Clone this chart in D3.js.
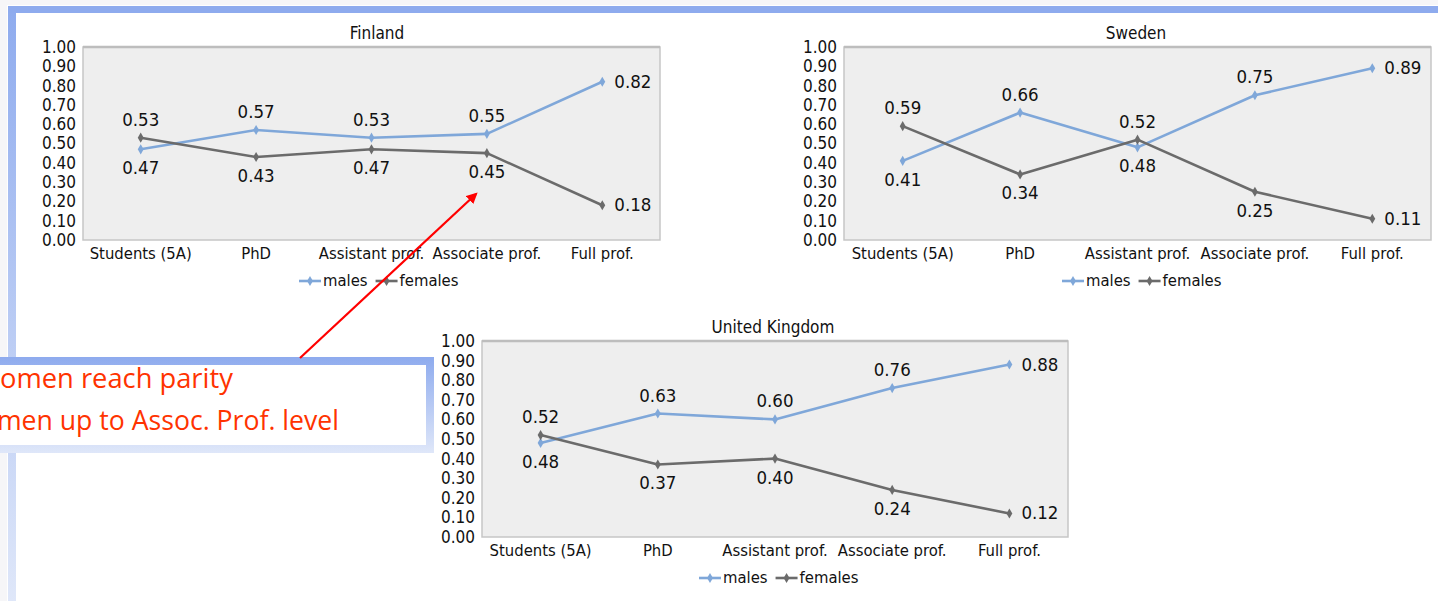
<!DOCTYPE html>
<html>
<head>
<meta charset="utf-8">
<script src="https://cdn.jsdelivr.net/npm/d3@7"></script>
<style>
  html, body { margin: 0; padding: 0; background: #ffffff; }
  svg { display: block; }
</style>
</head>
<body>
<svg id="chart" width="1438" height="601"></svg>
<script>
// Academic career stages
const categories = ["Students (5A)", "PhD", "Assistant prof.", "Associate prof.", "Full prof."];
const yTicks = [0, 0.1, 0.2, 0.3, 0.4, 0.5, 0.6, 0.7, 0.8, 0.9, 1.0];
const seriesNames = ["males", "females"];

// Share of males / females at each stage
const finlandMales   = [0.47, 0.57, 0.53, 0.55, 0.82];
const finlandFemales = [0.53, 0.43, 0.47, 0.45, 0.18];
const swedenMales    = [0.41, 0.66, 0.48, 0.75, 0.89];
const swedenFemales  = [0.59, 0.34, 0.52, 0.25, 0.11];
const ukMales        = [0.48, 0.63, 0.60, 0.76, 0.88];
const ukFemales      = [0.52, 0.37, 0.40, 0.24, 0.12];

const calloutLines = ["Women reach parity", "with men up to Assoc. Prof. level"];

const colors = { males: "#7fa7d9", females: "#6b6b6b" };
const chartFont = "'DejaVu Sans Condensed', 'Liberation Sans Narrow', 'Liberation Sans', sans-serif";

const panels = [
  { title: "Finland", males: finlandMales, females: finlandFemales,
    left: 83, right: 660, top: 47, bottom: 240, titleX: 377, legendX: 299 },
  { title: "Sweden", males: swedenMales, females: swedenFemales,
    left: 844, right: 1431, top: 47, bottom: 240, titleX: 1136, legendX: 1062 },
  { title: "United Kingdom", males: ukMales, females: ukFemales,
    left: 482, right: 1068, top: 341, bottom: 537, titleX: 773, legendX: 699 }
];

const svg = d3.select("#chart");

// Slide frame
const defs = svg.append("defs");
const sideGrad = defs.append("linearGradient").attr("id", "sideGrad")
  .attr("x1", 0).attr("y1", 0).attr("x2", 0).attr("y2", 1);
sideGrad.append("stop").attr("offset", "0%").attr("stop-color", "#8eabee");
sideGrad.append("stop").attr("offset", "100%").attr("stop-color", "#dfe7f9");
const boxGrad = defs.append("linearGradient").attr("id", "boxGrad")
  .attr("x1", 0).attr("y1", 0).attr("x2", 0).attr("y2", 1);
boxGrad.append("stop").attr("offset", "0%").attr("stop-color", "#8eabee");
boxGrad.append("stop").attr("offset", "100%").attr("stop-color", "#dfe7f9");

svg.append("rect").attr("x", 0).attr("y", 0).attr("width", 1438).attr("height", 5).attr("fill", "#f6f6f8");
svg.append("rect").attr("x", 0).attr("y", 0).attr("width", 7).attr("height", 601).attr("fill", "#f6f6f8");
svg.append("rect").attr("x", 8).attr("y", 6).attr("width", 8).attr("height", 595).attr("fill", "url(#sideGrad)");
svg.append("rect").attr("x", 8).attr("y", 6).attr("width", 1430).attr("height", 7).attr("fill", "#8eabee");

// Line marker: small diamond
const diamond = d3.symbol().type(d3.symbolDiamond).size(30);

function drawPanel(p) {
  const g = svg.append("g");
  const x = d3.scaleBand().domain(categories).range([p.left, p.right]).paddingInner(0).paddingOuter(0);
  const y = d3.scaleLinear().domain([0, 1]).range([p.bottom, p.top]);
  const cx = c => x(c) + x.bandwidth() / 2;

  g.append("rect")
    .attr("x", p.left).attr("y", p.top)
    .attr("width", p.right - p.left).attr("height", p.bottom - p.top)
    .attr("fill", "#eeeeee").attr("stroke", "#c6c6c6").attr("stroke-width", 1.5);
  g.append("line")
    .attr("x1", p.left).attr("x2", p.right).attr("y1", p.top).attr("y2", p.top)
    .attr("stroke", "#bdbdbd").attr("stroke-width", 2.5);

  g.append("text")
    .attr("x", p.titleX).attr("y", p.top - 8)
    .attr("text-anchor", "middle")
    .style("font-family", chartFont).style("font-size", "17px").attr("fill", "#111")
    .text(p.title);

  // Y axis labels
  const yAxis = d3.axisLeft(y).tickValues(yTicks).tickFormat(d3.format(".2f")).tickSize(0).tickPadding(7);
  const ya = g.append("g").attr("transform", `translate(${p.left},0)`).call(yAxis);
  ya.select(".domain").remove();
  ya.selectAll("text").style("font-family", chartFont).style("font-size", "17px").attr("fill", "#111");

  // X axis labels
  const xAxis = d3.axisBottom(x).tickSize(0).tickPadding(7);
  const xa = g.append("g").attr("transform", `translate(0,${p.bottom})`).call(xAxis);
  xa.select(".domain").remove();
  xa.selectAll("text").style("font-family", chartFont).style("font-size", "16.5px").attr("fill", "#111");

  const line = d3.line().x((d, i) => cx(categories[i])).y(d => y(d));

  seriesNames.forEach(name => {
    const vals = p[name];
    const other = p[name === "males" ? "females" : "males"];
    g.append("path").datum(vals)
      .attr("d", line).attr("fill", "none")
      .attr("stroke", colors[name]).attr("stroke-width", 2.6)
      .attr("stroke-linejoin", "round");
    g.selectAll(null).data(vals).enter().append("path")
      .attr("d", diamond)
      .attr("transform", (d, i) => `translate(${cx(categories[i])},${y(d)})`)
      .attr("fill", colors[name]);
    // Value labels: above for the larger share, below for the smaller, right of the last point
    g.selectAll(null).data(vals).enter().append("text")
      .attr("x", (d, i) => i === vals.length - 1 ? cx(categories[i]) + 12 : cx(categories[i]))
      .attr("y", (d, i) => {
        if (i === vals.length - 1) return y(d) + 6;
        return d >= other[i] ? y(d) - 12 : y(d) + 25;
      })
      .attr("text-anchor", (d, i) => i === vals.length - 1 ? "start" : "middle")
      .style("font-family", chartFont).style("font-size", "18.5px").attr("fill", "#111")
      .text(d => d.toFixed(2));
  });

  // Legend
  const lg = g.append("g").attr("transform", `translate(${p.legendX},${p.bottom + 41})`);
  let off = 0;
  seriesNames.forEach(name => {
    lg.append("line").attr("x1", off).attr("x2", off + 22).attr("y1", 0).attr("y2", 0)
      .attr("stroke", colors[name]).attr("stroke-width", 2.6);
    lg.append("path").attr("d", diamond).attr("transform", `translate(${off + 11},0)`).attr("fill", colors[name]);
    const t = lg.append("text").attr("x", off + 24).attr("y", 5)
      .style("font-family", chartFont).style("font-size", "16.5px").attr("fill", "#111")
      .text(name);
    off += 24 + t.node().getComputedTextLength() + 8;
  });
}

panels.forEach(drawPanel);

// Callout box
svg.append("rect").attr("x", -20).attr("y", 357).attr("width", 454).attr("height", 96).attr("fill", "url(#boxGrad)");
svg.append("rect").attr("x", -20).attr("y", 365).attr("width", 446).attr("height", 80).attr("fill", "#ffffff");

const calloutFont = "'Open Sans', 'Noto Sans', sans-serif";
function calloutText(str, baseline, prefixChars, visibleStart, visibleWidth) {
  const t = svg.append("text").attr("x", 0).attr("y", baseline)
    .style("font-family", calloutFont).style("font-size", "26px").attr("fill", "#ff3300")
    .text(str);
  const n = t.node();
  const total = n.getComputedTextLength();
  const pre = n.getSubStringLength(0, prefixChars);
  const s = visibleWidth / (total - pre);
  t.style("font-size", (26 * s) + "px");
  t.attr("x", visibleStart - pre * s);
}
calloutText(calloutLines[0], 388, 1, 0, 233);
calloutText(calloutLines[1], 430, 5, -3, 342);

// Arrow pointing at the Associate prof. point
defs.append("marker").attr("id", "arrowHead")
  .attr("viewBox", "0 0 10 10").attr("refX", 8).attr("refY", 5)
  .attr("markerWidth", 5).attr("markerHeight", 5).attr("orient", "auto")
  .append("path").attr("d", "M0,0 L10,5 L0,10 z").attr("fill", "#ff0000");
svg.append("line").attr("x1", 300).attr("y1", 358).attr("x2", 476).attr("y2", 194)
  .attr("stroke", "#ff0000").attr("stroke-width", 2.2).attr("marker-end", "url(#arrowHead)");
</script>
</body>
</html>
